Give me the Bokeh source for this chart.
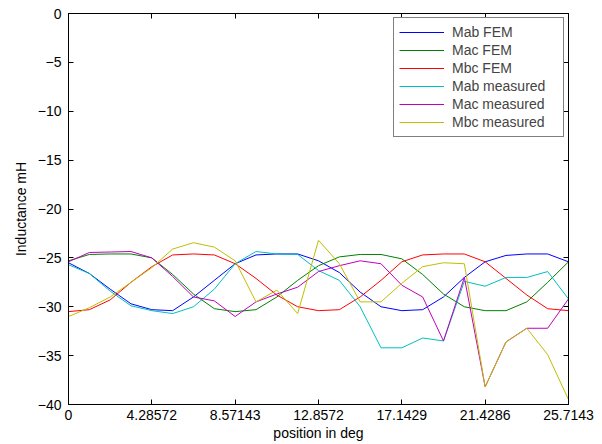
from bokeh.plotting import figure
from bokeh.models import Range1d, FixedTicker, LinearAxis, Legend, LegendItem
from bokeh.embed import file_html
from bokeh.resources import INLINE

# rotor position (deg)
position = [0, 1.07143, 2.14286, 3.21429, 4.28572, 5.35714, 6.42857, 7.5,
            8.57143, 9.64286, 10.7143, 11.7857, 12.8572, 13.9286, 15.0, 16.0714,
            17.1429, 18.2143, 19.2857, 20.3571, 21.4286, 22.5, 23.5714, 24.6429, 25.7143]

mab_fem = [-25.5, -26.6, -28.2, -29.7, -30.3, -30.4, -29.0, -27.3, -25.6, -24.7, -24.6, -24.6,
           -25.3, -26.5, -28.5, -30.0, -30.4, -30.3, -29.0, -27.0, -25.4, -24.75, -24.6, -24.6, -25.4]
mac_fem = [-25.3, -24.65, -24.6, -24.6, -25.0, -26.7, -28.7, -30.2, -30.5, -30.3, -29.0, -27.3,
           -25.8, -24.9, -24.65, -24.65, -25.1, -26.7, -28.7, -30.0, -30.4, -30.4, -29.5, -27.5, -25.4]
mbc_fem = [-30.5, -30.3, -29.3, -27.5, -25.9, -24.7, -24.6, -24.7, -25.6, -27.1, -28.8, -30.0,
           -30.4, -30.3, -29.0, -27.3, -25.4, -24.7, -24.6, -24.6, -25.4, -27.1, -28.8, -30.2, -30.4]
mab_meas = [-25.7, -26.6, -28.4, -29.9, -30.4, -30.7, -30.0, -28.2, -25.6, -24.35, -24.6, -24.65,
            -26.3, -27.3, -30.0, -34.2, -34.2, -33.2, -33.5, -27.4, -27.9, -27.0, -27.0, -26.4, -29.2]
mac_meas = [-25.4, -24.45, -24.4, -24.35, -25.0, -26.9, -29.0, -29.4, -31.0, -29.5, -28.7, -28.0,
            -26.4, -25.8, -25.3, -25.6, -27.8, -29.0, -33.5, -27.0, -38.2, -33.6, -32.2, -32.2, -29.2]
mbc_meas = [-31.0, -30.1, -29.0, -27.5, -26.0, -24.1, -23.45, -23.9, -25.3, -29.5, -28.3, -30.7,
            -23.2, -25.6, -29.5, -29.5, -27.6, -25.9, -25.5, -25.6, -38.2, -33.6, -32.2, -34.9, -39.5]

series_names = ["Mab FEM", "Mac FEM", "Mbc FEM", "Mab measured", "Mac measured", "Mbc measured"]
series_data = [mab_fem, mac_fem, mbc_fem, mab_meas, mac_meas, mbc_meas]
colors = ["#0000ff", "#008000", "#ff0000", "#00bfbf", "#bf00bf", "#bfbf00"]

x_ticks = [0, 4.28572, 8.57143, 12.8572, 17.1429, 21.4286, 25.7143]
x_tick_labels = ["0", "4.28572", "8.57143", "12.8572", "17.1429", "21.4286", "25.7143"]
y_ticks = [-40, -35, -30, -25, -20, -15, -10, -5, 0]
y_tick_labels = ["\u221240", "\u221235", "\u221230", "\u221225", "\u221220", "\u221215", "\u221210", "\u22125", "0"]

FONT = "Liberation Sans"
FS = "14px"

p = figure(width=602, height=444, output_backend="svg", toolbar_location=None,
           x_range=Range1d(0, 25.7143), y_range=Range1d(-40, 0),
           min_border_left=68, min_border_right=34, min_border_top=13, min_border_bottom=40)
p.background_fill_color = "white"
p.border_fill_color = "white"
p.outline_line_color = "black"
p.outline_line_width = 1
p.grid.visible = False

for ax in p.xaxis + p.yaxis:
    ax.major_tick_in = 5
    ax.major_tick_out = 0
    ax.minor_tick_in = 0
    ax.minor_tick_out = 0
    ax.axis_line_color = "black"
    ax.major_tick_line_color = "black"
    ax.major_label_text_font = FONT
    ax.major_label_text_font_size = FS
    ax.major_label_text_color = "black"
    ax.axis_label_text_font = FONT
    ax.axis_label_text_font_size = FS
    ax.axis_label_text_font_style = "normal"
    ax.axis_label_text_color = "black"

p.xaxis.ticker = FixedTicker(ticks=x_ticks)
p.xaxis.major_label_overrides = {t: s for t, s in zip(x_ticks, x_tick_labels)}
p.xaxis.axis_label = "position in deg"
p.xaxis.major_label_standoff = 5
p.xaxis.axis_label_standoff = 2

p.yaxis.ticker = FixedTicker(ticks=y_ticks)
p.yaxis.major_label_overrides = {t: s for t, s in zip(y_ticks, y_tick_labels)}
p.yaxis.axis_label = "Inductance mH"
p.yaxis.major_label_standoff = 7
p.yaxis.axis_label_standoff = 6

# mirrored tick marks on top and right
top_ax = LinearAxis(ticker=FixedTicker(ticks=x_ticks), major_tick_in=5, major_tick_out=0,
                    minor_tick_in=0, minor_tick_out=0, major_label_text_font_size="0px",
                    major_label_standoff=0, axis_line_color="black")
right_ax = LinearAxis(ticker=FixedTicker(ticks=y_ticks), major_tick_in=5, major_tick_out=0,
                      minor_tick_in=0, minor_tick_out=0, major_label_text_font_size="0px",
                      major_label_standoff=0, axis_line_color="black")
p.add_layout(top_ax, "above")
p.add_layout(right_ax, "right")

items = []
for name, ys, c in zip(series_names, series_data, colors):
    r = p.line(position, ys, line_color=c, line_width=1)
    items.append(LegendItem(label=name, renderers=[r]))

legend = Legend(items=items, location="top_right", margin=4, padding=5,
                spacing=0, label_height=18, glyph_height=18, glyph_width=45,
                label_standoff=8, label_width=106,
                label_text_font=FONT, label_text_font_size=FS,
                border_line_color="black", border_line_width=1,
                background_fill_color="white", background_fill_alpha=1)
p.add_layout(legend, "center")

open("out.html", "w").write(file_html(p, INLINE))
